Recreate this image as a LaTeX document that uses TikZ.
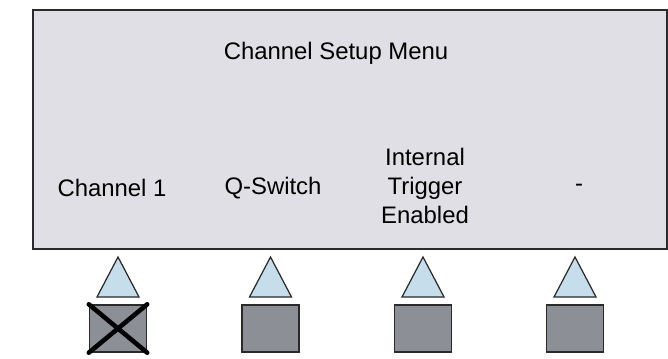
\documentclass[tikz,border=0pt]{standalone}
\usepackage{fontspec}
\setmainfont{Liberation Sans}
\usepackage{xcolor}
\usetikzlibrary{calc}
\definecolor{panelgrey}{HTML}{E0DFE5}
\definecolor{keyblue}{HTML}{C6DDEC}
\definecolor{keygrey}{HTML}{8D8F97}
\definecolor{edgegrey}{HTML}{2A2A2A}
\tikzstyle{menutext}=[font=\fontsize{13.6}{16.4}\selectfont, align=center, inner sep=0pt]
\tikzstyle{softkey}=[draw=edgegrey, fill=keygrey, line width=0.8pt, minimum width=1.14cm, minimum height=0.94cm, inner sep=0pt]
\tikzstyle{arrowhead}=[draw=edgegrey, fill=keyblue, line width=0.7pt, line join=miter]

\begin{document}
\begin{tikzpicture}[x=0.02cm, y=-0.02cm]
\useasboundingbox (0,0) rectangle (668,358);
\fill[white] (0,0) rectangle (668,358);
% display panel
\node[draw=edgegrey, fill=panelgrey, line width=1pt, minimum width=12.68cm, minimum height=4.78cm, inner sep=0pt] (panel) at (350,129.5) {};
\node[menutext] (title) at (336,53) {Channel Setup Menu};
\node[menutext] (ch) at (112,188) {Channel 1};
\node[menutext] (qs) at (273,188) {Q-Switch};
\node[menutext] (trig) at (425,186) {Internal\\Trigger\\Enabled};
\node[menutext] (dash) at (579,188) {-};
% soft keys below the panel
\foreach \i/\cx in {1/118, 2/270.5, 3/423, 4/575} {
  \coordinate (tip\i) at (\cx,257);
  \draw[arrowhead] (tip\i) -- ($(tip\i)+(21,40)$) -- ($(tip\i)+(-21,40)$) -- cycle;
  \node[softkey] (key\i) at (\cx,328.5) {};
}
\draw[line width=2.6pt, line cap=round] (key1.north west) -- (key1.south east);
\draw[line width=2.6pt, line cap=round] (key1.north east) -- (key1.south west);
\end{tikzpicture}
\end{document}
